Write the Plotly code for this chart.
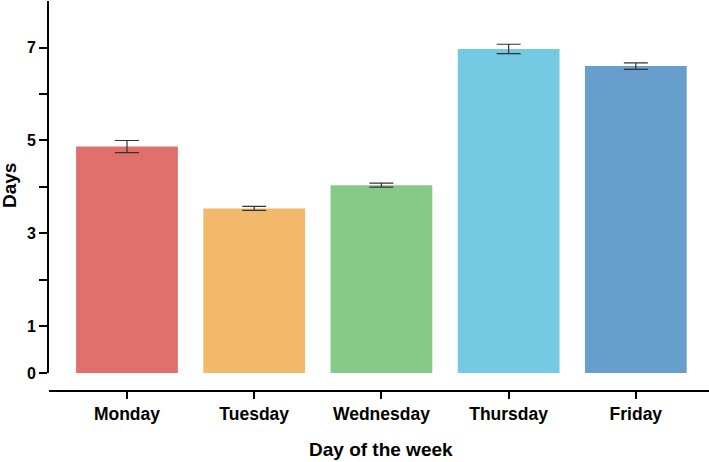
import plotly.graph_objects as go

days = ["Monday", "Tuesday", "Wednesday", "Thursday", "Friday"]
values = [4.87, 3.54, 4.04, 6.97, 6.60]
errors = [0.13, 0.045, 0.045, 0.10, 0.07]
colors = ["#E0706C", "#F2B96A", "#86CA87", "#74C9E3", "#689ECC"]
ytick_vals = [0, 1, 2, 3, 4, 5, 6, 7]
ytick_text = ["0", "1", "", "3", "", "5", "", "7"]
x_title = "Day of the week"
y_title = "Days"

FONT = "Liberation Sans, Arial, sans-serif"

fig = go.Figure(go.Bar(
    x=days, y=values, width=0.8,
    marker=dict(color=colors, line=dict(width=0)),
    error_y=dict(type="data", array=errors, visible=True,
                 color="#333333", thickness=1.2, width=12),
))

fig.update_layout(
    width=709, height=462,
    margin=dict(l=49, r=0, t=1, b=71),
    plot_bgcolor="white", paper_bgcolor="white",
    showlegend=False,
    font=dict(family=FONT, color="black"),
    xaxis=dict(
        anchor="free", position=0, automargin=False,
        range=[-0.613, 4.575],
        showline=True, linecolor="black", linewidth=2,
        ticks="outside", ticklen=7, tickwidth=2, tickcolor="black",
        tickfont=dict(size=17.5, weight="bold"),
        showgrid=False, zeroline=False,
    ),
    yaxis=dict(
        domain=[0.0462, 1], automargin=False,
        range=[0, 8],
        showline=True, linecolor="black", linewidth=2,
        ticks="outside", ticklen=8, tickwidth=2, tickcolor="black",
        tickvals=ytick_vals, ticktext=ytick_text,
        tickfont=dict(size=16, weight="bold"),
        showgrid=False, zeroline=False,
    ),
    annotations=[
        dict(text=x_title, xref="x", yref="paper", x=2, y=(391 - 450) / 390,
             xanchor="center", yanchor="middle", showarrow=False,
             font=dict(size=19, weight="bold")),
        dict(text=y_title, xref="paper", yref="paper", x=(9 - 49) / 660,
             y=(391 - 186) / 390, xanchor="center", yanchor="middle",
             textangle=-90, showarrow=False,
             font=dict(size=19, weight="bold")),
    ],
)

fig.write_html(
    "out.html",
    config={"displayModeBar": False},
    post_script="document.body.style.margin='0';document.body.style.overflow='hidden';",
)
